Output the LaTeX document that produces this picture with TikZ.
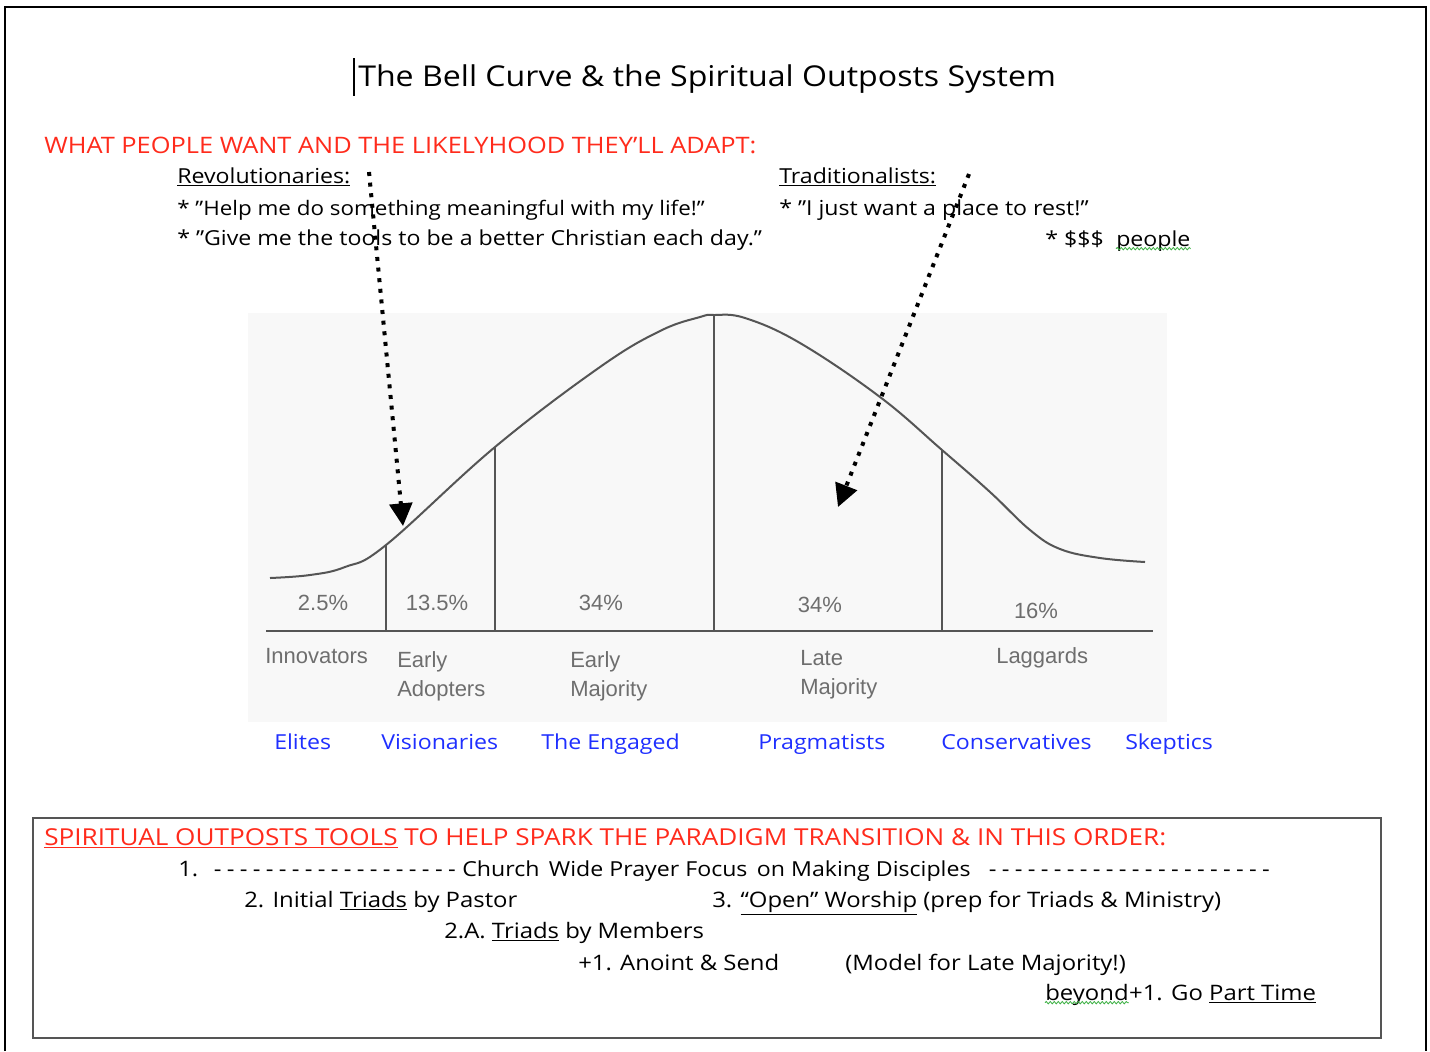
\documentclass[tikz,border=0pt]{standalone}
\usepackage{fontspec}
\setmainfont{Open Sans}[FakeStretch=1.12]
\newfontfamily\arialf{Liberation Sans}
\usetikzlibrary{arrows.meta,decorations.pathmorphing}
\definecolor{hdred}{HTML}{FF2B1C}
\definecolor{lblue}{HTML}{1F2FFF}
\definecolor{cgray}{HTML}{6E6E6E}
\definecolor{lgray}{HTML}{555555}
\definecolor{bgch}{HTML}{F8F8F8}
\definecolor{wavy}{HTML}{3CB043}
\newcommand\dd{\makebox[9.75pt]{-}}
\begin{document}
\begin{tikzpicture}[x=0.75pt,y=-0.75pt,
  txt/.style={anchor=base west, inner sep=0pt, font=\fontsize{15.5}{18}\selectfont},
  btxt/.style={anchor=base west, inner sep=0pt, font=\fontsize{16}{18}\selectfont},
  ttl/.style={anchor=base west, inner sep=0pt, font=\fontsize{21.5}{24}\selectfont},
  redh/.style={anchor=base west, inner sep=0pt, text=hdred, font=\fontsize{17}{18}\selectfont},
  pct/.style={anchor=base, inner sep=0pt, text=cgray, font=\arialf\fontsize{16.5}{18}\selectfont},
  cat/.style={anchor=base west, inner sep=0pt, text=cgray, font=\arialf\fontsize{16.5}{18}\selectfont},
  blu/.style={anchor=base west, inner sep=0pt, text=lblue, font=\fontsize{15.5}{18}\selectfont},
  curveline/.style={draw=lgray, line width=1.5pt},
  dotarrow/.style={line width=3pt, dash pattern=on 3pt off 5pt, -{Triangle[length=17pt,width=17pt]}},
  spell/.style={draw=wavy, decorate, decoration={snake, amplitude=0.9pt, segment length=3pt}, line width=0.6pt}
]
\useasboundingbox (0,0) rectangle (1430,1051);
\fill[white] (0,0) rectangle (1430,1051);
% outer frame
\draw[line width=2pt] (5,1051) -- (5,7) -- (1426,7) -- (1426,1051);
% title
\draw[line width=1pt] (354,58) -- (354,96);
\node[ttl] (title) at (358,86) {The Bell Curve \& the Spiritual Outposts System};
% heading
\node[redh] (head1) at (44,153) {WHAT PEOPLE WANT AND THE LIKELYHOOD THEY'LL ADAPT:};
\node[txt] (rev) at (177,183) {\underline{Revolutionaries:}};
\node[txt, font=\fontsize{15}{18}\selectfont] (rev1) at (177,215) {* "Help me do something meaningful with my life!"};
\node[txt] (rev2) at (177,245) {* "Give me the tools to be a better Christian each day."};
\node[txt] (trad) at (779,183) {\underline{Traditionalists:}};
\node[txt] (trad1) at (779,215) {* "I just want a place to rest!"};
\node[txt] (trad2) at (1045,246) {* \$\$\$};
\node[txt] (ppl) at (1116,246) {people};
\draw[spell] ([yshift=-2pt]ppl.base west) -- ([yshift=-2pt]ppl.base east);
% chart
\fill[bgch] (248,313) rectangle (1167,722);
\draw[curveline] plot[smooth, tension=0.65] coordinates {(270,578) (310,575) (345,567) (386,545) (495,447) (600,367) (660,331) (700,317) (714,315) (745,318) (800,343) (880,397) (942,450) (990,492) (1030,530) (1060,549) (1100,558) (1145,562)};
\draw[curveline] (266,631) -- (1153,631);
\draw[curveline] (386,545) -- (386,631);
\draw[curveline] (495,447) -- (495,631);
\draw[curveline] (714,315) -- (714,631);
\draw[curveline] (942,450) -- (942,631);
\node[pct] (p1) at (323,610) {2.5\%};
\node[pct] (p2) at (437,610) {13.5\%};
\node[pct] (p3) at (601,610) {34\%};
\node[pct] (p4) at (820,612) {34\%};
\node[pct] (p5) at (1036,618) {16\%};
\node[cat] (c1) at (265,663) {Innovators};
\node[cat] (c2a) at (397,667) {Early};
\node[cat] (c2b) at (397,696) {Adopters};
\node[cat] (c3a) at (570,667) {Early};
\node[cat] (c3b) at (570,696) {Majority};
\node[cat] (c4a) at (800,665) {Late};
\node[cat] (c4b) at (800,694) {Majority};
\node[cat] (c5) at (996,663) {Laggards};
% blue labels
\node[blu] (b1) at (274,749) {Elites};
\node[blu] (b2) at (381,749) {Visionaries};
\node[blu] (b3) at (541,749) {The Engaged};
\node[blu] (b4) at (758,749) {Pragmatists};
\node[blu] (b5) at (941,749) {Conservatives};
\node[blu] (b6) at (1125,749) {Skeptics};
% dotted arrows
\coordinate (a1s) at (369,172);
\coordinate (a1e) at (403,526);
\coordinate (a2s) at (969,174);
\coordinate (a2e) at (838,507);
\draw[dotarrow] (a1s) -- (a1e);
\draw[dotarrow] (a2s) -- (a2e);
% bottom box
\draw[draw=lgray, line width=1.6pt] (33,818) rectangle (1381,1038);
\node[redh, font=\fontsize{17.5}{18}\selectfont] (h2) at (44,845) {\underline{SPIRITUAL OUTPOSTS TOOLS} TO HELP SPARK THE PARADIGM TRANSITION \& IN THIS ORDER:};
\node[btxt] (l1a) at (178,876) {1.};
\node[btxt] (l1b) at (211,876) {\dd\dd\dd\dd\dd\dd\dd\dd\dd\dd\dd\dd\dd\dd\dd\dd\dd\dd\dd};
\node[btxt, font=\fontsize{15.5}{18}\selectfont] (l1c) at (462,876) {Church\, Wide Prayer Focus\, on Making Disciples};
\node[btxt] (l1d) at (986,876) {\dd\dd\dd\dd\dd\dd\dd\dd\dd\dd\dd\dd\dd\dd\dd\dd\dd\dd\dd\dd\dd\dd};
\node[btxt] (l2a) at (244,907) {2. Initial \underline{Triads} by Pastor};
\node[btxt] (l2b) at (712,907) {3. \underline{``Open'' Worship} (prep for Triads \& Ministry)};
\node[btxt] (l3) at (444,938) {2.A. \underline{Triads} by Members};
\node[btxt] (l4a) at (578,970) {+1. Anoint \& Send};
\node[btxt] (l4b) at (845,970) {(Model for Late Majority!)};
\node[btxt] (l5a) at (1045,1000) {beyond};
\draw[spell] ([yshift=-2pt]l5a.base west) -- ([yshift=-2pt]l5a.base east);
\node[btxt, anchor=base west] (l5b) at (l5a.base east) {+1. Go \underline{Part Time}};
\end{tikzpicture}
\end{document}
